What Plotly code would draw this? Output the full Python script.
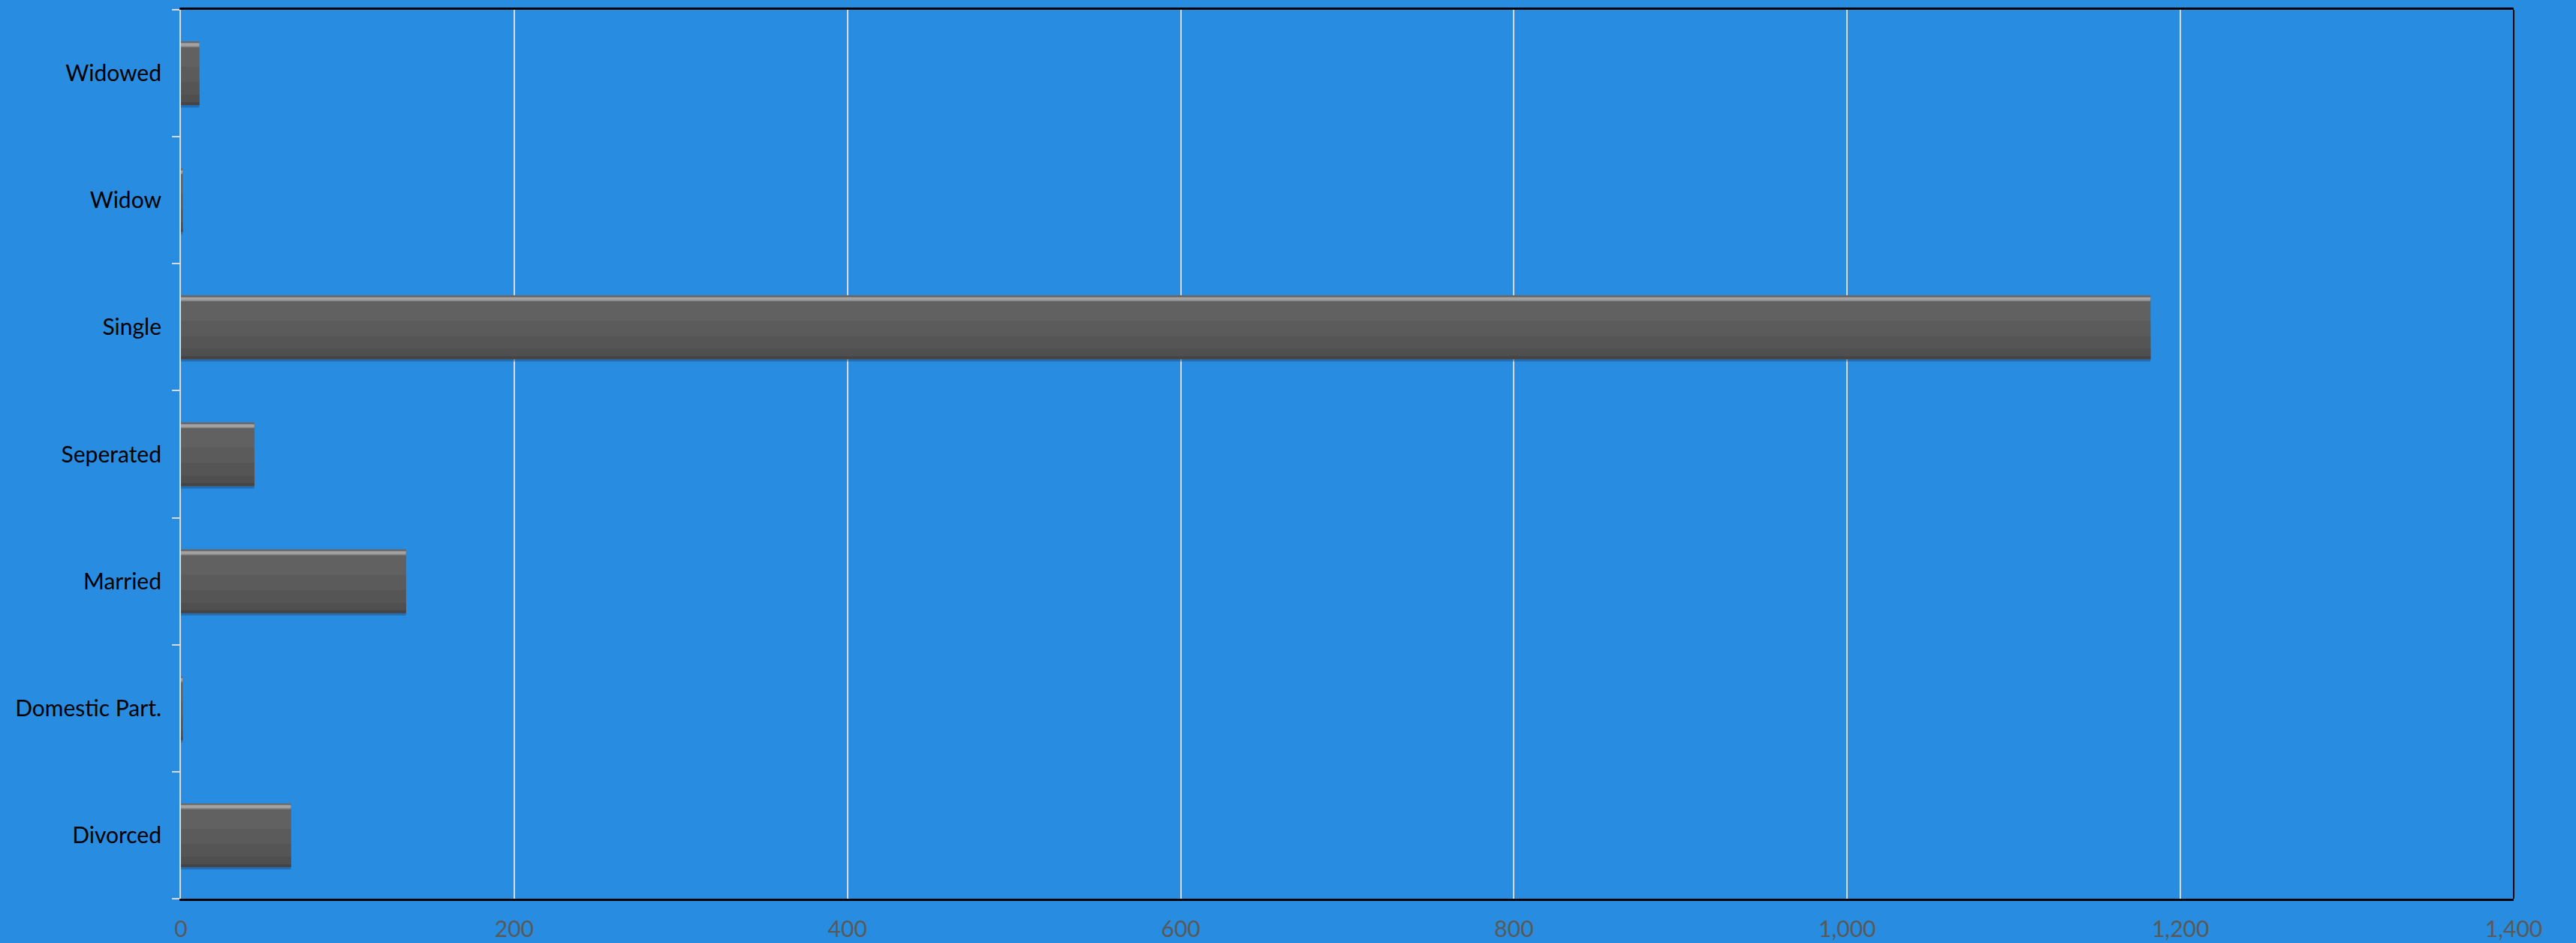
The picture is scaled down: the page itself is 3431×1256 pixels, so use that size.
import plotly.graph_objects as go

categories = ["Divorced", "Domestic Part.", "Married", "Seperated", "Single", "Widow", "Widowed"]
counts = [66, 1, 135, 44, 1182, 1, 11]
x_ticks = [0, 200, 400, 600, 800, 1000, 1200, 1400]
x_tick_labels = ["0", "200", "400", "600", "800", "1,000", "1,200", "1,400"]

BG = "#288de0"
FONT = "Lato"

fig = go.Figure()


def layer(color, width, offset, main=False):
    fig.add_trace(go.Bar(
        y=categories, x=counts, orientation="h",
        width=width, offset=offset,
        marker=dict(color=color, line=dict(width=0)),
        hoverinfo=None if main else "skip",
        name="Count", showlegend=False,
    ))


# soft shadow under bars
layer("rgba(25,70,130,0.45)", 0.5, -0.27)
# main bar body with vertical gradient imitation
layer("#616161", 0.5, -0.25, main=True)
layer("#5b5b5b", 0.30, -0.25)
layer("#555555", 0.18, -0.25)
layer("#4f4f4f", 0.08, -0.25)
# bottom bevel
layer("#444444", 0.022, -0.25)
# top highlight bevel
layer("#8a8a8a", 0.035, 0.205)
layer("#a3a3a3", 0.02, 0.215)
layer("#6a6a6a", 0.01, 0.24)

fig.update_layout(
    width=3431, height=1256,
    margin=dict(l=241, r=83, t=13, b=59),
    paper_bgcolor=BG, plot_bgcolor=BG,
    barmode="overlay",
    font=dict(family=FONT, size=30, color="#000000"),
    shapes=[
        dict(type="line", xref="paper", yref="paper", x0=1, x1=1, y0=0, y1=1,
             line=dict(color="#000000", width=2)),
    ],
)

fig.update_xaxes(
    range=[0, 1400], automargin=False,
    tickvals=x_ticks, ticktext=x_tick_labels,
    tickfont=dict(family=FONT, size=30, color="#595959"),
    showgrid=True, gridcolor="#d9d9d9", gridwidth=2,
    zeroline=False,
    showline=True, linecolor="#000000", linewidth=3, mirror=True,
    ticks="", ticklabelstandoff=12,
)
fig.update_yaxes(
    type="category", automargin=False,
    categoryorder="array", categoryarray=categories,
    tickfont=dict(family=FONT, size=30, color="#000000"),
    showgrid=False, zeroline=False,
    showline=True, linecolor="#d9d9d9", linewidth=2,
    ticks="outside", tickson="boundaries", ticklen=10,
    tickcolor="#d9d9d9", tickwidth=2,
    ticklabelstandoff=18,
)

fig.write_html(
    "out.html",
    config={"displayModeBar": False},
    post_script="document.body.style.margin='0';",
)
